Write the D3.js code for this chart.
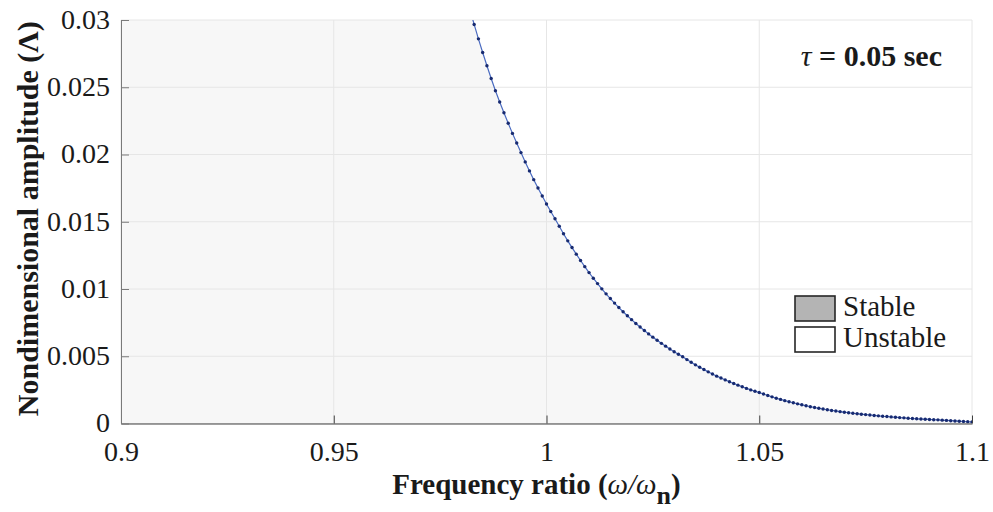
<!DOCTYPE html>
<html>
<head>
<meta charset="utf-8">
<script src="https://cdn.jsdelivr.net/npm/d3@7"></script>
<style>
  body { margin: 0; background: #fff; }
  text { font-family: "Liberation Serif", "Times New Roman", serif; fill: #1a1a1a; }
</style>
</head>
<body>
<svg width="993" height="512"></svg>
<script>
var xTicks = [0.9, 0.95, 1, 1.05, 1.1];
var yTicks = [0, 0.005, 0.01, 0.015, 0.02, 0.025, 0.03];
var legendLabels = ["Stable", "Unstable"];
var legendFills = ["#b4b4b4", "#ffffff"];

// frequency ratio (w/wn) of each computed point
var ratio = [0.982, 0.983, 0.984, 0.985, 0.986, 0.987, 0.988, 0.989, 0.990, 0.991,
  0.992, 0.993, 0.994, 0.995, 0.996, 0.997, 0.998, 0.999, 1.000, 1.001,
  1.002, 1.003, 1.004, 1.005, 1.006, 1.007, 1.008, 1.009, 1.010, 1.011,
  1.012, 1.013, 1.014, 1.015, 1.016, 1.017, 1.018, 1.019, 1.020, 1.021,
  1.022, 1.023, 1.024, 1.025, 1.026, 1.027, 1.028, 1.029, 1.030, 1.031,
  1.032, 1.033, 1.034, 1.035, 1.036, 1.037, 1.038, 1.039, 1.040, 1.041,
  1.042, 1.043, 1.044, 1.045, 1.046, 1.047, 1.048, 1.049, 1.050, 1.051,
  1.052, 1.053, 1.054, 1.055, 1.056, 1.057, 1.058, 1.059, 1.060, 1.061,
  1.062, 1.063, 1.064, 1.065, 1.066, 1.067, 1.068, 1.069, 1.070, 1.071,
  1.072, 1.073, 1.074, 1.075, 1.076, 1.077, 1.078, 1.079, 1.080, 1.081,
  1.082, 1.083, 1.084, 1.085, 1.086, 1.087, 1.088, 1.089, 1.090, 1.091,
  1.092, 1.093, 1.094, 1.095, 1.096, 1.097, 1.098, 1.099, 1.100];

// nondimensional amplitude on the stability boundary
var amplitude = [0.03077, 0.02967, 0.02860, 0.02758, 0.02660, 0.02565, 0.02474, 0.02390, 0.02310, 0.02232,
  0.02157, 0.02085, 0.02014, 0.01945, 0.01878, 0.01813, 0.01751, 0.01691, 0.01632, 0.01576,
  0.01522, 0.01466, 0.01411, 0.01358, 0.01308, 0.01259, 0.01212, 0.01166, 0.01122, 0.01080,
  0.01040, 0.01001, 0.00964, 0.00929, 0.00895, 0.00862, 0.00831, 0.00801, 0.00772, 0.00744,
  0.00717, 0.00691, 0.00666, 0.00642, 0.00619, 0.00596, 0.00575, 0.00554, 0.00534, 0.00515,
  0.00496, 0.00475, 0.00455, 0.00436, 0.00418, 0.00401, 0.00384, 0.00368, 0.00352, 0.00338,
  0.00324, 0.00310, 0.00297, 0.00285, 0.00273, 0.00261, 0.00250, 0.00240, 0.00230, 0.00219,
  0.00208, 0.00198, 0.00188, 0.00179, 0.00170, 0.00162, 0.00154, 0.00146, 0.00139, 0.00132,
  0.00125, 0.00119, 0.00113, 0.00108, 0.00102, 0.00097, 0.00093, 0.00088, 0.00084, 0.00080,
  0.00076, 0.00073, 0.00069, 0.00066, 0.00063, 0.00060, 0.00057, 0.00054, 0.00052, 0.00049,
  0.00047, 0.00044, 0.00042, 0.00039, 0.00037, 0.00035, 0.00033, 0.00032, 0.00030, 0.00028,
  0.00027, 0.00025, 0.00023, 0.00021, 0.00019, 0.00017, 0.00015, 0.00013, 0.00011];

var svg = d3.select("svg"),
    margin = {top: 20, right: 21, bottom: 88.5, left: 121},
    width = +svg.attr("width") - margin.left - margin.right,
    height = +svg.attr("height") - margin.top - margin.bottom,
    g = svg.append("g").attr("transform", "translate(" + margin.left + "," + margin.top + ")");

var x = d3.scaleLinear().domain([0.9, 1.1]).range([0, width]);
var y = d3.scaleLinear().domain([0, 0.03]).range([height, 0]);
var fmt = d3.format("~g");

var data = ratio.map(function(r, i) { return {r: r, a: amplitude[i]}; });

svg.append("defs").append("clipPath").attr("id", "plot")
  .append("rect").attr("width", width).attr("height", height);

// stable region: everything left of / below the boundary
var region = [{r: x.domain()[0], a: y.domain()[1]}].concat(data);
g.append("path")
    .datum(region)
    .attr("clip-path", "url(#plot)")
    .attr("fill", "#f7f7f7")
    .attr("d", d3.area()
      .x(function(d) { return x(d.r); })
      .y0(y(0))
      .y1(function(d) { return y(d.a); }));

// grid
g.selectAll(".gx").data(xTicks).enter().append("line")
    .attr("x1", function(d) { return x(d); }).attr("x2", function(d) { return x(d); })
    .attr("y1", 0).attr("y2", height)
    .attr("stroke", "#e6e6e6").attr("stroke-width", 1);
g.selectAll(".gy").data(yTicks).enter().append("line")
    .attr("x1", 0).attr("x2", width)
    .attr("y1", function(d) { return y(d); }).attr("y2", function(d) { return y(d); })
    .attr("stroke", "#e6e6e6").attr("stroke-width", 1);

// axes, ticks pointing inwards
var xAxis = g.append("g").attr("transform", "translate(0," + height + ")")
    .call(d3.axisBottom(x).tickValues(xTicks).tickFormat(fmt).tickSizeInner(-8).tickSizeOuter(0).tickPadding(18));
var yAxis = g.append("g")
    .call(d3.axisLeft(y).tickValues(yTicks).tickFormat(fmt).tickSizeInner(-8).tickSizeOuter(0).tickPadding(11));

xAxis.select(".domain").attr("stroke", "#404040");
yAxis.select(".domain").attr("stroke", "#7a7a7a");
xAxis.selectAll(".tick line").attr("stroke", "#404040");
yAxis.selectAll(".tick line").attr("stroke", "#7a7a7a");
[xAxis, yAxis].forEach(function(a) {
  a.selectAll("text")
    .attr("font-family", "Liberation Serif")
    .attr("font-size", 28)
    .attr("fill", "#262626");
});
yAxis.selectAll("text").attr("dy", "0.3em");

// boundary curve with markers
var plot = g.append("g").attr("clip-path", "url(#plot)");
plot.append("path")
    .datum(data)
    .attr("fill", "none")
    .attr("stroke", "#4a6bc0")
    .attr("stroke-width", 1.2)
    .attr("d", d3.line().x(function(d) { return x(d.r); }).y(function(d) { return y(d.a); }));
plot.selectAll(".dot").data(data).enter().append("circle")
    .attr("cx", function(d) { return x(d.r); })
    .attr("cy", function(d) { return y(d.a); })
    .attr("r", 1.7)
    .attr("fill", "#172a70");

// axis labels
var xl = svg.append("text")
    .attr("x", margin.left + width / 2 - 10)
    .attr("y", 494)
    .attr("text-anchor", "middle")
    .attr("font-size", 29)
    .attr("font-weight", "bold");
xl.append("tspan").text("Frequency ratio (");
xl.append("tspan").attr("font-style", "italic").attr("font-weight", "normal").text("\u03c9/\u03c9");
xl.append("tspan").attr("dy", 10).attr("font-size", 26).text("n");
xl.append("tspan").attr("dy", -10).text(")");

svg.append("text")
    .attr("transform", "translate(38," + (margin.top + height / 2 - 3) + ") rotate(-90)")
    .attr("text-anchor", "middle")
    .attr("font-size", 30)
    .attr("font-weight", "bold")
    .text("Nondimensional amplitude (\u039b)");

// annotation
var ann = g.append("text")
    .attr("x", width - 30)
    .attr("y", 46)
    .attr("text-anchor", "end")
    .attr("font-size", 30)
    .attr("font-weight", "bold");
ann.append("tspan").attr("font-style", "italic").attr("font-weight", "normal").text("\u03c4");
ann.append("tspan").text(" = 0.05 sec");

// legend
var legend = g.append("g").attr("transform", "translate(" + (width - 177) + "," + 276 + ")");
var item = legend.selectAll(".item").data(legendLabels).enter().append("g")
    .attr("transform", function(d, i) { return "translate(0," + i * 31 + ")"; });
item.append("rect")
    .attr("width", 40).attr("height", 25)
    .attr("fill", function(d, i) { return legendFills[i]; })
    .attr("stroke", "#262626").attr("stroke-width", 1.6);
item.append("text")
    .attr("x", 48).attr("y", 20)
    .attr("font-size", 29)
    .text(function(d) { return d; });
</script>
</body>
</html>
